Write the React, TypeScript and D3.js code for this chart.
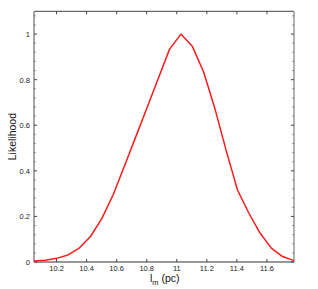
import React from "react";
import * as d3 from "d3";

const xValues = [10.05, 10.125, 10.2, 10.276, 10.351, 10.426, 10.501, 10.576, 10.652, 10.727, 10.802, 10.877, 10.952, 11.028, 11.103, 11.178, 11.253, 11.328, 11.404, 11.479, 11.554, 11.629, 11.704, 11.78];
const likelihood = [0.004, 0.008, 0.016, 0.031, 0.061, 0.112, 0.19, 0.294, 0.421, 0.549, 0.677, 0.805, 0.934, 1.0, 0.947, 0.835, 0.675, 0.491, 0.316, 0.215, 0.127, 0.061, 0.024, 0.006];
const xTicks = [10.2, 10.4, 10.6, 10.8, 11, 11.2, 11.4, 11.6];
const yTicks = [0, 0.2, 0.4, 0.6, 0.8, 1];

export default function App() {
  const W = 318, H = 289;
  const left = 34, right = 294, top = 11.3, bottom = 262;
  const x = d3.scaleLinear().domain([10.05, 11.78]).range([left, right]);
  const y = d3.scaleLinear().domain([0, 1.1]).range([bottom, top]);
  const line = d3.line<number>().x((_, i) => x(xValues[i])).y((d) => y(d));
  const minor = d3.range(0, 1.1001, 0.04).filter((v) => Math.abs(v / 0.2 - Math.round(v / 0.2)) > 1e-6);
  const font = "Liberation Sans, Arial, sans-serif";
  return (
    <svg width={W} height={H} style={{ position: "absolute", left: 0, top: 0 }}>
      <rect width={W} height={H} fill="#fff" />
      <line x1={left} x2={right} y1={top} y2={top} stroke="#444" strokeWidth={1} />
      <line x1={left} x2={right} y1={bottom} y2={bottom} stroke="#333" strokeWidth={1.2} />
      <line x1={left} x2={left} y1={top} y2={bottom} stroke="#888" strokeWidth={1.5} />
      <line x1={right} x2={right} y1={top} y2={bottom} stroke="#999" strokeWidth={1.5} />
      {xTicks.map((t) => (
        <g key={"x" + t}>
          <line x1={x(t)} x2={x(t)} y1={top} y2={top + 3} stroke="#444" />
          <line x1={x(t)} x2={x(t)} y1={bottom} y2={bottom - 3} stroke="#444" />
          <text x={x(t)} y={271} fontSize={7.5} fontFamily={font} textAnchor="middle" fill="#222">{t}</text>
        </g>
      ))}
      {yTicks.map((t) => (
        <g key={"y" + t}>
          <line x1={left} x2={left + 3} y1={y(t)} y2={y(t)} stroke="#444" />
          <line x1={right} x2={right - 3} y1={y(t)} y2={y(t)} stroke="#444" />
          <text x={30} y={y(t) + 3} fontSize={7.5} fontFamily={font} textAnchor="end" fill="#222">{t}</text>
        </g>
      ))}
      {minor.map((t) => (
        <g key={"m" + t}>
          <line x1={left} x2={left + 1.5} y1={y(t)} y2={y(t)} stroke="#666" />
          <line x1={right} x2={right - 1.5} y1={y(t)} y2={y(t)} stroke="#666" />
        </g>
      ))}
      <path d={line(likelihood) || ""} fill="none" stroke="#ff1a1a" strokeWidth={1.5} strokeLinejoin="round" />
      <text transform={`translate(16,${(top + bottom) / 2}) rotate(-90)`} fontSize={10.5} fontFamily={font} textAnchor="middle" fill="#111">Likelihood</text>
      <text x={150} y={282} fontSize={10.5} fontFamily={font} fill="#111">
        l<tspan fontSize={7.5} dy={3}>m</tspan><tspan dy={-3}> (pc)</tspan>
      </text>
    </svg>
  );
}
